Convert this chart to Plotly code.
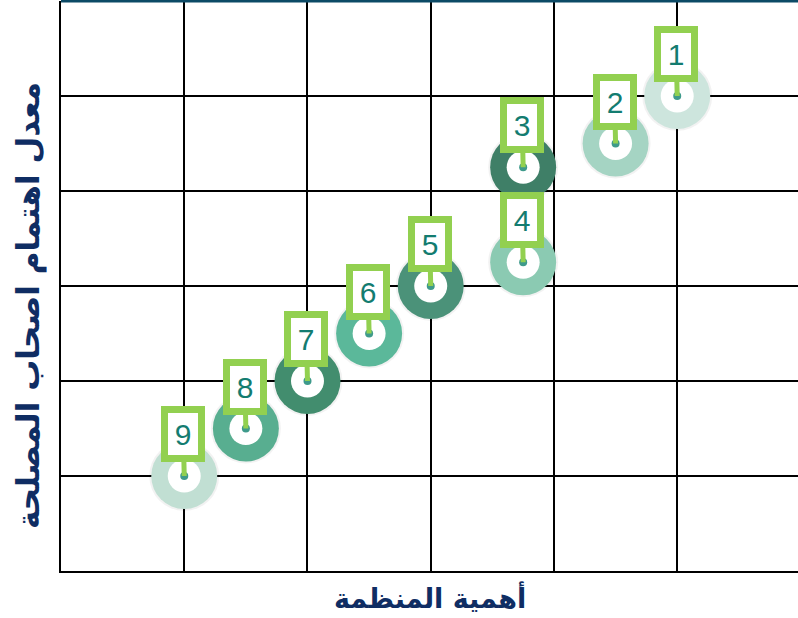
import plotly.graph_objects as go

labels = ["1", "2", "3", "4", "5", "6", "7", "8", "9"]
x_vals = [5.0, 4.5, 3.75, 3.75, 3.0, 2.5, 2.0, 1.5, 1.0]
y_vals = [5.0, 4.5, 4.25, 3.25, 3.0, 2.5, 2.0, 1.5, 1.0]
ring_colors = ["#cde5dd", "#a5d4c3", "#3f7f67", "#8bcab2", "#4b9279",
               "#5bb89a", "#428d6e", "#58ae90", "#c1dfd3"]
x_title = "أهمية المنظمة"
y_title = "معدل اهتمام اصحاب المصلحة"

fig = go.Figure()

# soft shadow
fig.add_trace(go.Scatter(
    x=x_vals, y=y_vals, mode="markers",
    marker=dict(symbol="circle", size=70, color="rgba(0,0,0,0.05)", line=dict(width=0)),
    hoverinfo="skip", showlegend=False))

fig.add_trace(go.Scatter(
    x=x_vals, y=y_vals, mode="markers",
    marker=dict(symbol="circle", size=66, color=ring_colors, line=dict(width=0)),
    hoverinfo="skip", showlegend=False))

fig.add_trace(go.Scatter(
    x=x_vals, y=y_vals, mode="markers",
    marker=dict(symbol="circle", size=33, color="white", line=dict(width=0)),
    hoverinfo="skip", showlegend=False))

fig.add_trace(go.Scatter(
    x=x_vals, y=y_vals, mode="markers",
    marker=dict(symbol="circle", size=8, color="#3e9a8b", line=dict(width=0)),
    hoverinfo="skip", showlegend=False))

for lab, xv, yv in zip(labels, x_vals, y_vals):
    fig.add_annotation(
        x=xv, y=yv, xref="x", yref="y", text=lab,
        showarrow=True, arrowhead=0, arrowwidth=5, arrowcolor="#92d050",
        ax=-1, ay=-42, standoff=0,
        font=dict(family="Liberation Sans, Arial", size=30, color="#137c70"),
        bgcolor="white", bordercolor="#92d050", borderwidth=7, borderpad=1,
        width=28, height=40)

fig.add_annotation(
    x=0.5, y=-(597 - 571) / 570, xref="paper", yref="paper", text="<b>" + x_title + "</b>",
    showarrow=False, xanchor="center", yanchor="middle",
    font=dict(family="DejaVu Sans", size=27, color="#0f2d63"))
fig.add_annotation(
    x=(28 - 61) / 737, y=(571 - 306) / 570, xref="paper", yref="paper",
    text="<b>" + y_title + "</b>",
    showarrow=False, xanchor="center", yanchor="middle", textangle=-90,
    font=dict(family="DejaVu Sans", size=31, color="#0f2d63"))

fig.add_shape(type="line", xref="paper", yref="paper", x0=0, x1=1, y0=1, y1=1,
              line=dict(color="#0c4a66", width=3))

fig.update_xaxes(range=[0, 5.98], dtick=1, tick0=0, showgrid=True, gridcolor="black",
                 gridwidth=2, showticklabels=False, zeroline=False,
                 showline=True, linecolor="black", linewidth=2, ticks="", fixedrange=True)
fig.update_yaxes(range=[0, 6], dtick=1, tick0=0, showgrid=True, gridcolor="black",
                 gridwidth=2, showticklabels=False, zeroline=False,
                 showline=True, linecolor="black", linewidth=2, ticks="", fixedrange=True)

fig.update_layout(
    width=798, height=618, margin=dict(l=61, r=0, t=1, b=47, autoexpand=False),
    plot_bgcolor="white", paper_bgcolor="white", showlegend=False)

fig.write_html("out.html", config={"displayModeBar": False},
               post_script="document.body.style.margin='0';document.body.style.overflow='hidden';")
